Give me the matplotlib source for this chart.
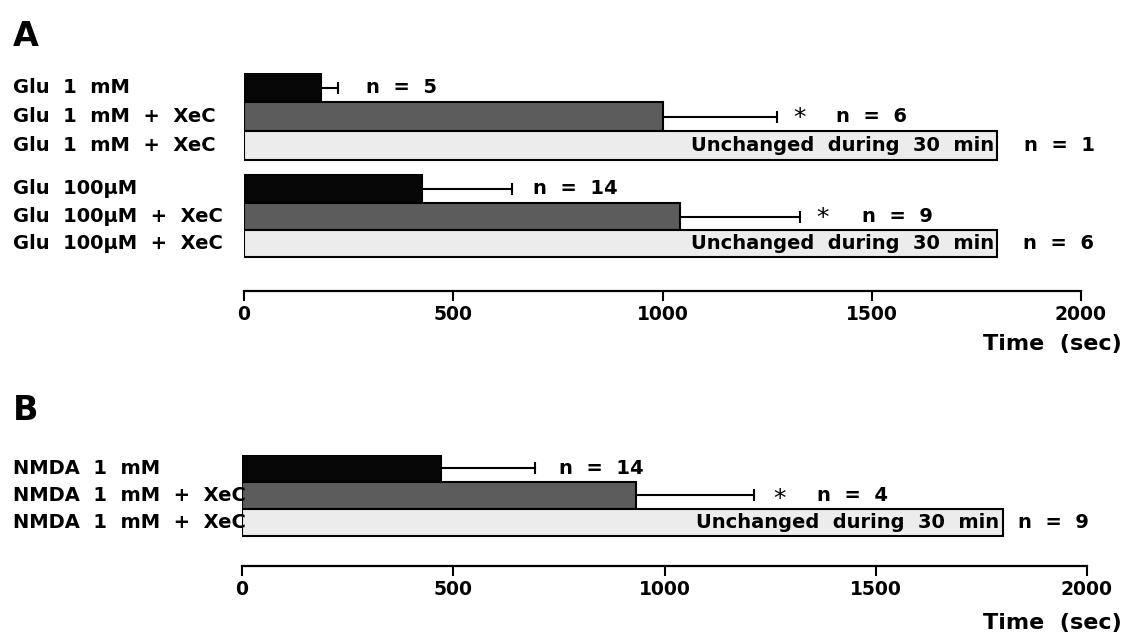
import matplotlib
matplotlib.use('Agg')
import matplotlib.pyplot as plt
from matplotlib.transforms import blended_transform_factory

plt.rcParams['font.family'] = ['DejaVu Sans']
plt.rcParams['font.weight'] = 'bold'

# ---------------- data ----------------
labels_a1 = ["Glu  1  mM", "Glu  1  mM  +  XeC", "Glu  1  mM  +  XeC"]
means_a1 = [184, 1000, 1800]
errs_a1 = [40, 273, None]
n_a1 = [5, 6, 1]
sig_a1 = [False, True, False]

labels_a2 = ["Glu  100\u03bcM", "Glu  100\u03bcM  +  XeC", "Glu  100\u03bcM  +  XeC"]
means_a2 = [425, 1042, 1800]
errs_a2 = [215, 287, None]
n_a2 = [14, 9, 6]
sig_a2 = [False, True, False]

labels_b = ["NMDA  1  mM", "NMDA  1  mM  +  XeC", "NMDA  1  mM  +  XeC"]
means_b = [471, 932, 1800]
errs_b = [222, 281, None]
n_b = [14, 4, 9]
sig_b = [False, True, False]

unchanged_text = "Unchanged  during  30  min"
xticks = [0, 500, 1000, 1500, 2000]
xlabel = "Time  (sec)"

# ---------------- style / layout ----------------
colors = ['#060606', '#5c5c5c', '#ececec']
W, H = 1130, 637
PX = 0.72  # points per pixel at dpi 100

fig = plt.figure(figsize=(11.3, 6.37), dpi=100)


def add_ax(l, t, r, b):
    ax = fig.add_axes([l / W, 1 - b / H, (r - l) / W, (b - t) / H])
    ax.set_ylim(b, t)  # y axis in figure pixel rows (layout only)
    return ax


def draw_group(ax, ys, hgt, labels, means, errs, ns, sigs, n_off, star_off, n_off_sig, last_off,
               star_dy):
    trans = blended_transform_factory(fig.transFigure, ax.transData)
    for i, (y, lab, m, e, n, s) in enumerate(zip(ys, labels, means, errs, ns, sigs)):
        ax.barh(y, m, height=hgt, color=colors[i], edgecolor='black', linewidth=1.5, zorder=2)
        ax.text(13 / W, y, lab, transform=trans, ha='left', va='center', fontsize=14,
                fontweight='bold', zorder=5)
        if e is not None:
            end = m + e
            ax.plot([m, end], [y, y], color='black', lw=1.5, zorder=3, clip_on=False)
            ax.plot([end], [y], marker='|', markersize=9, mew=1.5, color='black',
                    zorder=3, clip_on=False)
            if s:
                ax.annotate('*', (end, y), xytext=(star_off * PX, star_dy * PX),
                            textcoords='offset points', ha='center', va='center', fontsize=18,
                            fontweight='normal', annotation_clip=False)
                ax.annotate(f"n  =  {n}", (end, y), xytext=(n_off_sig * PX, 0),
                            textcoords='offset points', ha='left', va='center', fontsize=14,
                            annotation_clip=False)
            else:
                ax.annotate(f"n  =  {n}", (end, y), xytext=(n_off * PX, 0),
                            textcoords='offset points', ha='left', va='center', fontsize=14,
                            annotation_clip=False)
        else:
            ax.annotate(unchanged_text, (m, y), xytext=(-3 * PX, 0), textcoords='offset points',
                        ha='right', va='center', fontsize=14, zorder=6, annotation_clip=False)
            ax.annotate(f"n  =  {n}", (m, y), xytext=(last_off * PX, 0),
                        textcoords='offset points', ha='left', va='center', fontsize=14,
                        annotation_clip=False)


def style_axis(ax):
    ax.set_xlim(0, 2000)
    for sp in ['top', 'right', 'left']:
        ax.spines[sp].set_visible(False)
    ax.spines['bottom'].set_linewidth(1.6)
    ax.set_yticks([])
    ax.set_xticks(xticks)
    ax.set_xticklabels([str(t) for t in xticks], fontsize=13.5, fontweight='bold')
    ax.tick_params(axis='x', direction='out', length=7, width=1.5, pad=3)
    ax.patch.set_alpha(0)


# Panel A
axA = add_ax(244, 73, 1081, 291)
draw_group(axA, [87.5, 116.5, 145.5], 29, labels_a1, means_a1, errs_a1, n_a1, sig_a1,
           28, 23, 59, 27, -1)
draw_group(axA, [189, 216.5, 243.5], 27.3, labels_a2, means_a2, errs_a2, n_a2, sig_a2,
           21, 22, 62, 26, -2)
style_axis(axA)

# Panel B
axB = add_ax(242, 455, 1087, 566)
draw_group(axB, [468.5, 495.5, 522.5], 27, labels_b, means_b, errs_b, n_b, sig_b,
           24, 25, 63, 15, -4)
style_axis(axB)

fig.text(1122 / W, 1 - 344 / H, xlabel, ha='right', va='center', fontsize=16, fontweight='bold')
fig.text(1122 / W, 1 - 623 / H, xlabel, ha='right', va='center', fontsize=16, fontweight='bold')
fig.text(13 / W, 1 - 37 / H, 'A', ha='left', va='center', fontsize=24, fontweight='heavy')
fig.text(13 / W, 1 - 411 / H, 'B', ha='left', va='center', fontsize=24, fontweight='heavy')

fig.savefig('out.png', dpi=100, facecolor='white')
